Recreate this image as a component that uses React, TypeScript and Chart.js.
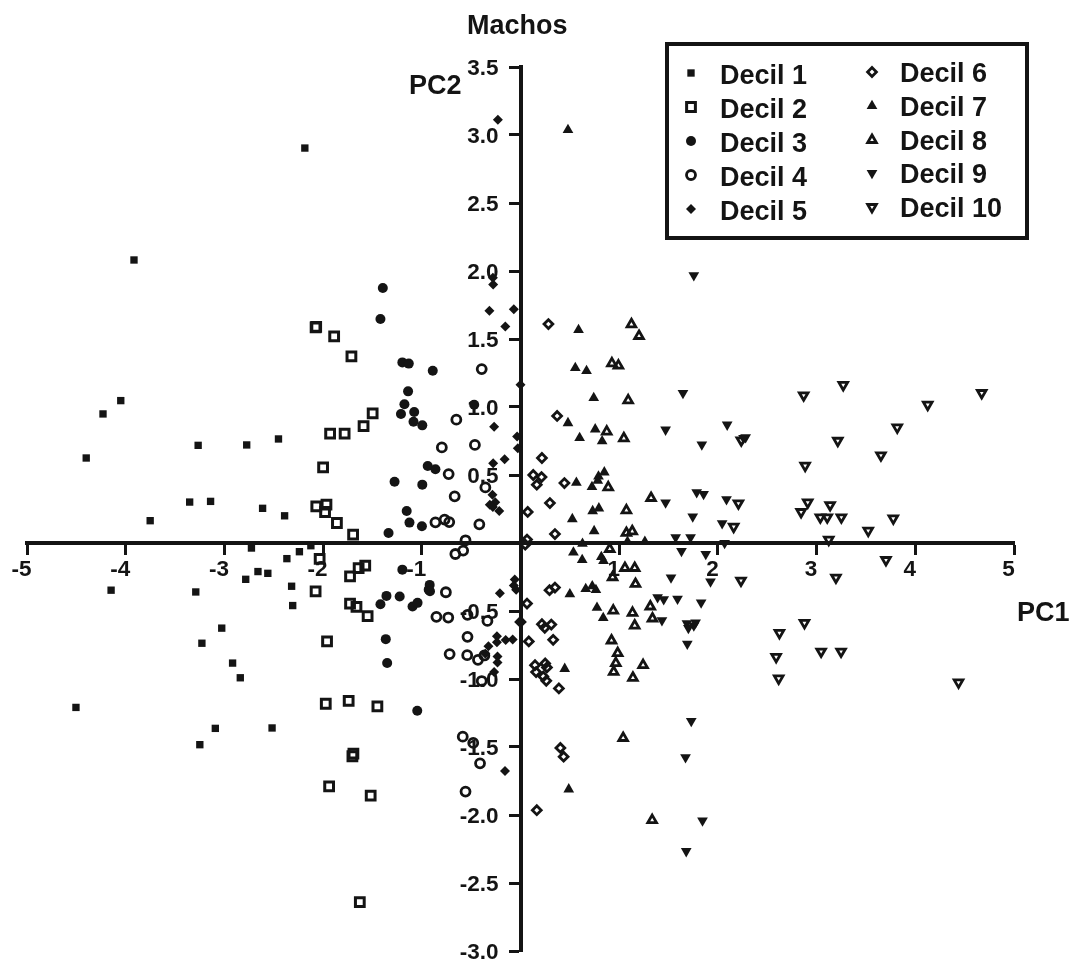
import React, { useEffect, useRef } from "react";
import { Chart, registerables } from "chart.js";
import { drawPoint } from "chart.js/helpers";

Chart.register(...registerables);

type P = [number, number];

const decil1: P[] = [[-2.185,2.904],[-3.916,2.081],[-4.05,1.047],[-4.23,0.949],[-4.4,0.625],[-3.266,0.718],[-2.774,0.721],[-2.452,0.765],[-3.352,0.301],[-3.14,0.306],[-2.613,0.255],[-2.39,0.2],[-3.752,0.164],[-2.726,-0.037],[-2.124,-0.02],[-2.24,-0.064],[-2.367,-0.115],[-2.66,-0.21],[-2.56,-0.223],[-2.784,-0.267],[-4.148,-0.347],[-3.29,-0.36],[-2.319,-0.318],[-2.308,-0.46],[-3.027,-0.626],[-3.228,-0.737],[-2.917,-0.883],[-2.839,-0.991],[-4.504,-1.209],[-3.092,-1.363],[-2.517,-1.36],[-3.249,-1.483]];
const decil2: P[] = [[-2.076,1.586],[-2.07,1.59],[-1.888,1.52],[-1.713,1.373],[-1.498,0.953],[-1.59,0.86],[-1.929,0.804],[-1.782,0.804],[-2.0,0.556],[-2.069,0.27],[-1.966,0.282],[-1.98,0.228],[-1.86,0.147],[-1.696,0.061],[-2.035,-0.117],[-1.727,-0.245],[-1.573,-0.166],[-1.64,-0.184],[-2.076,-0.355],[-1.727,-0.445],[-1.662,-0.47],[-1.549,-0.538],[-1.96,-0.724],[-1.741,-1.16],[-1.973,-1.182],[-1.45,-1.201],[-1.693,-1.549],[-1.703,-1.568],[-1.939,-1.789],[-1.518,-1.857],[-1.628,-2.64]];
const decil3: P[] = [[-1.395,1.875],[-1.419,1.647],[-1.197,1.328],[-1.132,1.319],[-0.889,1.267],[-1.139,1.115],[-1.176,1.02],[-1.211,0.949],[-1.077,0.963],[-1.084,0.892],[-0.995,0.865],[-0.94,0.566],[-0.862,0.542],[-1.276,0.451],[-0.995,0.429],[-1.153,0.235],[-1.125,0.15],[-0.999,0.123],[-1.337,0.074],[-0.469,1.017],[-1.197,-0.196],[-0.92,-0.308],[-0.93,-0.343],[-0.917,-0.355],[-1.358,-0.389],[-1.224,-0.394],[-1.419,-0.45],[-1.094,-0.467],[-1.043,-0.44],[-1.365,-0.707],[-1.351,-0.883],[-1.046,-1.233]];
const decil4: P[] = [[-0.393,1.279],[-0.65,0.907],[-0.462,0.721],[-0.797,0.703],[-0.728,0.507],[-0.356,0.409],[-0.667,0.343],[-0.862,0.152],[-0.769,0.172],[-0.722,0.154],[-0.417,0.137],[-0.557,0.02],[-0.66,-0.081],[-0.581,-0.056],[-0.756,-0.362],[-0.852,-0.543],[-0.732,-0.548],[-0.537,-0.528],[-0.335,-0.573],[-0.537,-0.69],[-0.718,-0.817],[-0.54,-0.825],[-0.431,-0.859],[-0.366,-0.827],[-0.393,-1.015],[-0.585,-1.424],[-0.479,-1.47],[-0.41,-1.62],[-0.557,-1.828]];
const decil5: P[] = [[-0.229,3.113],[-0.277,1.9],[-0.28,1.95],[-0.315,1.708],[-0.068,1.718],[-0.154,1.591],[0,1.164],[-0.267,0.855],[-0.034,0.784],[-0.027,0.696],[-0.161,0.615],[-0.277,0.586],[-0.284,0.355],[-0.256,0.299],[-0.311,0.282],[-0.28,0.265],[-0.215,0.235],[-0.058,-0.269],[-0.068,-0.313],[-0.044,-0.343],[-0.209,-0.369],[0,-0.58],[-0.239,-0.685],[-0.239,-0.729],[-0.15,-0.714],[-0.079,-0.71],[-0.325,-0.759],[-0.356,-0.815],[-0.233,-0.834],[-0.233,-0.878],[-0.267,-0.949],[-0.157,-1.676]];
const decil6: P[] = [[0.283,1.61],[0.371,0.934],[0.217,0.625],[0.129,0.5],[0.213,0.485],[0.165,0.429],[0.445,0.441],[0.298,0.294],[0.073,0.228],[0.349,0.066],[0.066,0.025],[0.048,-0.012],[0.066,-0.445],[0.312,-0.6],[0.217,-0.597],[0.246,-0.624],[0.084,-0.724],[0.331,-0.712],[0.349,-0.328],[0.294,-0.347],[0,-0.58],[0.147,-0.898],[0.25,-0.886],[0.268,-0.915],[0.158,-0.949],[0.231,-0.981],[0.261,-1.013],[0.389,-1.069],[0.404,-1.507],[0.437,-1.571],[0.165,-1.965]];
const decil7: P[] = [[0.481,3.037],[0.588,1.566],[0.555,1.287],[0.669,1.265],[0.742,1.066],[0.481,0.882],[0.757,0.836],[0.599,0.772],[0.827,0.748],[0.849,0.52],[0.79,0.49],[0.783,0.458],[0.566,0.444],[0.724,0.412],[0.794,0.255],[0.731,0.235],[0.525,0.176],[0.746,0.088],[0.628,-0.005],[1.26,0.01],[1.084,0.01],[0.536,-0.069],[0.625,-0.125],[0.819,-0.103],[0.841,-0.132],[0.5,-0.377],[0.661,-0.338],[0.727,-0.318],[0.764,-0.345],[0.775,-0.475],[0.838,-0.551],[0.448,-0.925],[0.489,-1.811]];
const decil8: P[] = [[1.124,1.608],[1.201,1.522],[0.926,1.321],[0.992,1.304],[1.091,1.049],[0.874,0.819],[1.047,0.77],[0.889,0.409],[1.323,0.331],[1.073,0.24],[1.132,0.086],[1.073,0.074],[0.904,-0.044],[1.058,-0.184],[1.157,-0.184],[0.933,-0.252],[1.165,-0.301],[1.315,-0.467],[0.94,-0.497],[1.135,-0.514],[1.337,-0.555],[1.157,-0.607],[0.922,-0.717],[0.985,-0.81],[0.966,-0.883],[1.242,-0.898],[0.944,-0.947],[1.139,-0.991],[1.04,-1.434],[1.334,-2.038]];
const decil9: P[] = [[1.756,1.968],[1.646,1.103],[1.47,0.833],[2.094,0.87],[1.837,0.723],[2.281,0.777],[2.26,0.772],[1.47,0.297],[1.785,0.373],[1.855,0.36],[2.087,0.321],[1.745,0.194],[2.043,0.145],[1.572,0.042],[1.723,0.042],[2.068,0],[1.631,-0.059],[1.877,-0.081],[1.525,-0.254],[1.925,-0.284],[1.389,-0.399],[1.451,-0.414],[1.591,-0.411],[1.83,-0.438],[1.433,-0.568],[1.686,-0.59],[1.774,-0.585],[1.756,-0.607],[1.701,-0.626],[1.69,-0.741],[1.73,-1.309],[1.672,-1.576],[1.844,-2.041],[1.679,-2.266]];
const decil10: P[] = [[2.869,1.086],[3.27,1.162],[4.673,1.103],[4.126,1.017],[3.817,0.85],[3.215,0.752],[3.652,0.645],[2.884,0.569],[2.237,0.755],[2.208,0.292],[2.16,0.12],[2.91,0.299],[2.843,0.228],[3.137,0.279],[3.038,0.189],[3.108,0.189],[3.251,0.189],[3.777,0.181],[3.523,0.091],[3.123,0.025],[3.703,-0.125],[3.196,-0.254],[2.234,-0.276],[2.877,-0.587],[2.623,-0.661],[3.046,-0.798],[3.248,-0.798],[2.59,-0.837],[2.616,-0.996],[4.438,-1.025]];

const seriesNames = ["Decil 1","Decil 2","Decil 3","Decil 4","Decil 5","Decil 6","Decil 7","Decil 8","Decil 9","Decil 10"];
const seriesData = [decil1,decil2,decil3,decil4,decil5,decil6,decil7,decil8,decil9,decil10];

const INK = "#141414";
const FONT = '"Liberation Sans", Arial, sans-serif';

const markers = [
  { pointStyle: "rect", radius: 5.2, rotation: 0, open: false, bw: 0 },
  { pointStyle: "rect", radius: 6.2, rotation: 0, open: true, bw: 3 },
  { pointStyle: "circle", radius: 5, rotation: 0, open: false, bw: 0 },
  { pointStyle: "circle", radius: 4.5, rotation: 0, open: true, bw: 2.8 },
  { pointStyle: "rectRot", radius: 5, rotation: 0, open: false, bw: 0 },
  { pointStyle: "rectRot", radius: 4.4, rotation: 0, open: true, bw: 2.8 },
  { pointStyle: "triangle", radius: 6.2, rotation: 0, open: false, bw: 0 },
  { pointStyle: "triangle", radius: 5, rotation: 0, open: true, bw: 2.8 },
  { pointStyle: "triangle", radius: 6.2, rotation: 180, open: false, bw: 0 },
  { pointStyle: "triangle", radius: 5, rotation: 180, open: true, bw: 2.8 },
];

const legendRows = [74, 108, 142, 176, 210, 73, 107, 141, 174, 208];

const annotations = {
  id: "annotations",
  afterDraw(chart: any) {
    const ctx = chart.ctx;
    ctx.save();
    ctx.fillStyle = INK;
    ctx.textBaseline = "middle";
    ctx.textAlign = "left";
    ctx.font = `bold 27px ${FONT}`;
    ctx.fillText("Machos", 467, 27);
    ctx.fillText("PC2", 409, 87);
    ctx.fillText("PC1", 1017, 614);

    ctx.strokeStyle = INK;
    ctx.lineWidth = 4;
    ctx.strokeRect(667, 44, 360, 194);

    seriesNames.forEach((name, i) => {
      const col2 = i >= 5;
      const y = legendRows[i];
      const m = markers[i];
      ctx.fillStyle = m.open ? "rgba(0,0,0,0)" : INK;
      ctx.strokeStyle = INK;
      ctx.lineWidth = m.bw;
      drawPoint(ctx, { pointStyle: m.pointStyle, radius: m.radius, rotation: m.rotation, borderWidth: m.bw }, col2 ? 872 : 691, col2 ? y - 1 : y - 1);
      ctx.fillStyle = INK;
      ctx.font = `bold 27px ${FONT}`;
      ctx.fillText(name, col2 ? 900 : 720, col2 ? y + 1.5 : y + 3);
    });
    ctx.restore();
  },
};

export default function App() {
  const ref = useRef<HTMLCanvasElement>(null);
  useEffect(() => {
    document.body.style.margin = "0";
    const chart = new Chart(ref.current!, {
      type: "scatter",
      data: {
        datasets: seriesNames.map((label, i) => ({
          label,
          data: seriesData[i].map(([x, y]) => ({ x, y })),
          pointStyle: markers[i].pointStyle,
          pointRadius: markers[i].radius,
          pointRotation: markers[i].rotation,
          pointBorderWidth: markers[i].bw,
          pointBorderColor: INK,
          pointBackgroundColor: markers[i].open ? "rgba(0,0,0,0)" : INK,
          clip: false,
        })),
      } as any,
      options: {
        responsive: false,
        animation: false,
        layout: { padding: { left: 27, right: 55, top: 67, bottom: 11 } },
        plugins: { legend: { display: false }, title: { display: false }, tooltip: { enabled: false } },
        scales: {
          x: {
            type: "linear",
            min: -5,
            max: 5,
            position: { y: 0 } as any,
            afterFit: (s: any) => { s.height = 0; s.paddingLeft = 0; s.paddingRight = 0; },
            border: { display: true, width: 4, color: INK },
            grid: { drawOnChartArea: false, drawTicks: true, tickLength: 10, tickWidth: 3, tickColor: INK },
            ticks: {
              stepSize: 1,
              padding: 3,
              labelOffset: -5.5,
              maxRotation: 0,
              autoSkip: false,
              color: INK,
              font: { family: FONT, weight: "bold", size: 22.5 },
              callback: (v: any) => (v === 0 ? "" : String(v)),
            },
          },
          y: {
            type: "linear",
            min: -3,
            max: 3.5,
            position: "center",
            afterFit: (s: any) => { s.width = 0; s.paddingTop = 0; s.paddingBottom = 0; },
            border: { display: true, width: 4, color: INK },
            grid: { drawOnChartArea: false, drawTicks: true, tickLength: 10, tickWidth: 3, tickColor: INK },
            ticks: {
              stepSize: 0.5,
              padding: 12,
              labelOffset: 2,
              autoSkip: false,
              color: INK,
              font: { family: FONT, weight: "bold", size: 22.5 },
              callback: (v: any) => (v === 0 ? "" : Number(v).toFixed(1)),
            },
          },
        },
      } as any,
      plugins: [annotations],
    });
    return () => chart.destroy();
  }, []);
  return <canvas ref={ref} width={1069} height={962} style={{ display: "block" }} />;
}
